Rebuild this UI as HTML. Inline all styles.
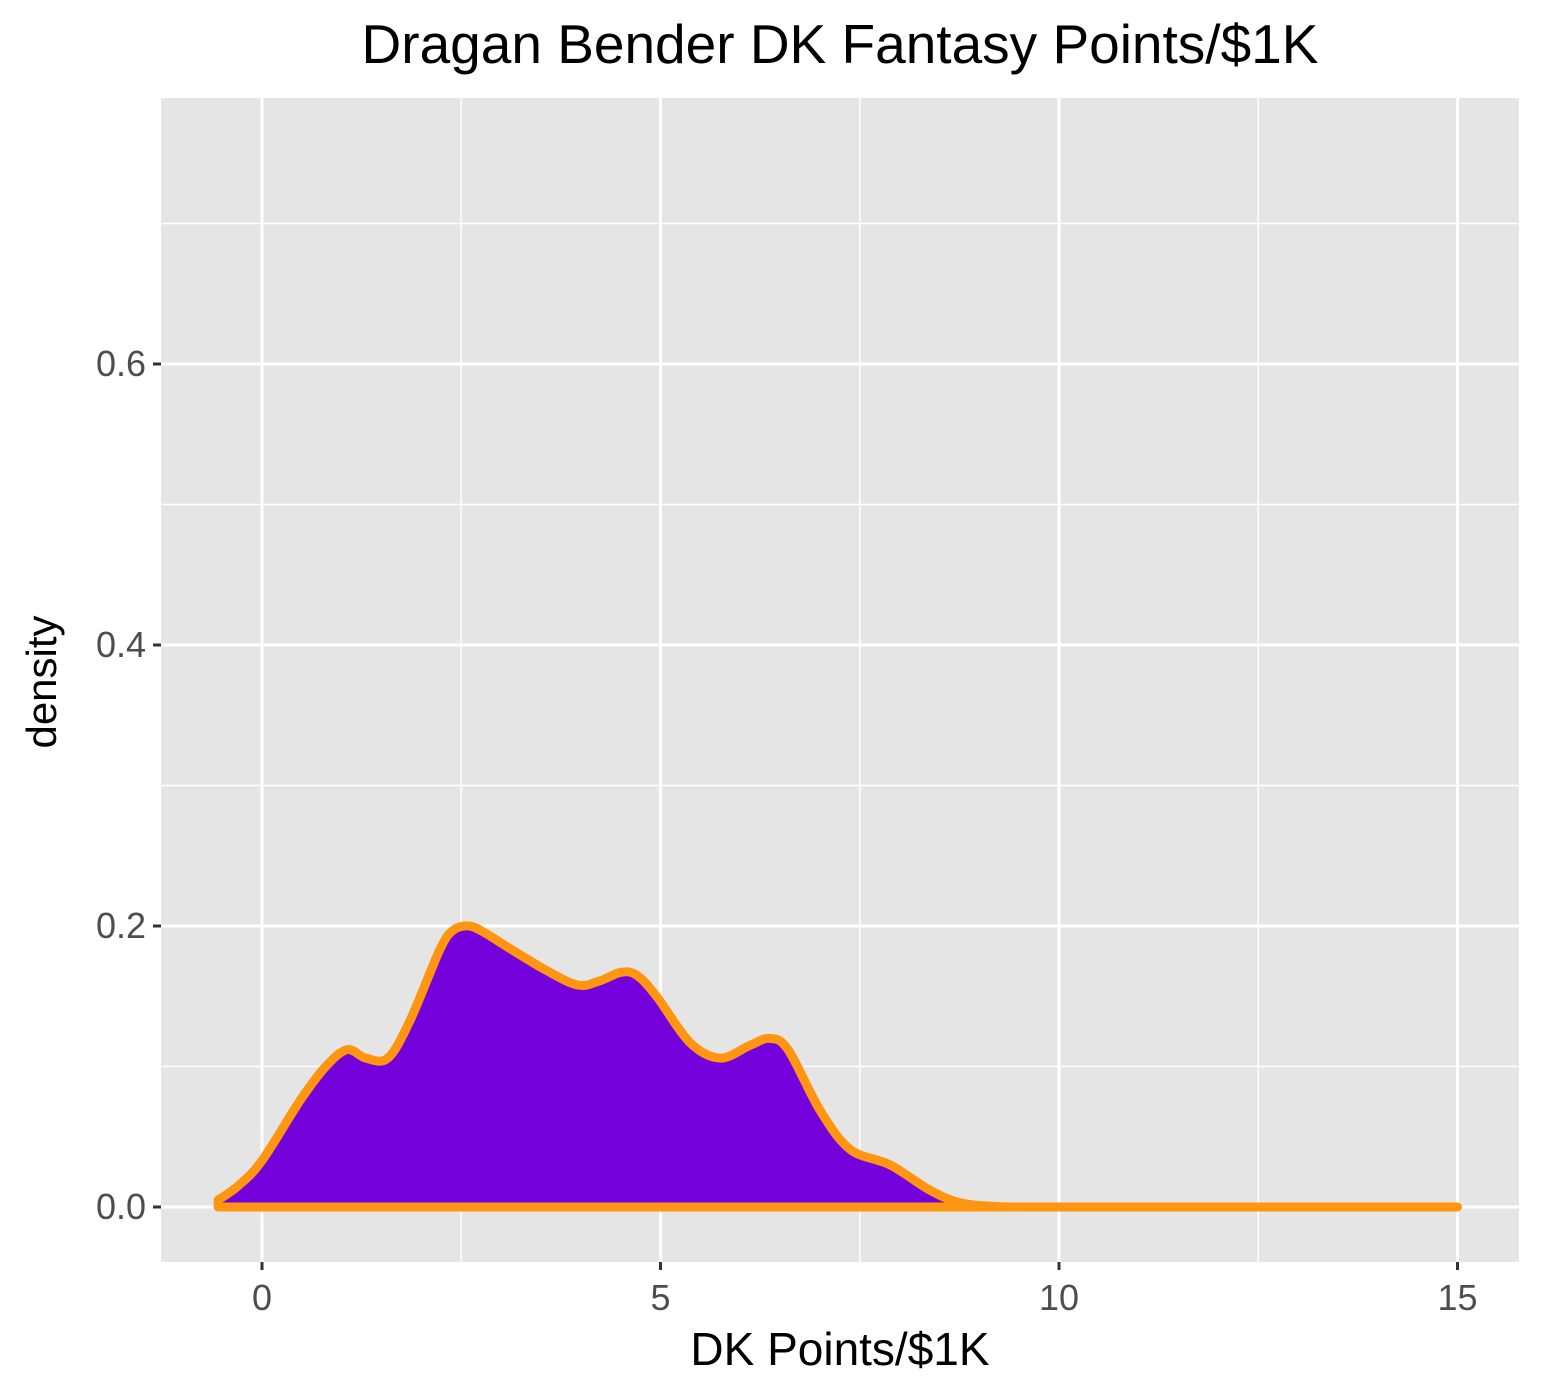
<!DOCTYPE html>
<html><head><meta charset="utf-8"><style>
body{margin:0;background:#fff;}
svg{display:block;font-family:"Liberation Sans",Arial,sans-serif;}
</style></head><body>
<svg id="chart" width="1541" height="1391">
<rect x="161" y="98" width="1358" height="1164" fill="#e5e5e5"/>
<g id="grid"></g>
<g id="plot"></g>
<g id="axes"></g>
<text x="840" y="63" font-size="55" text-anchor="middle" fill="#000">Dragan Bender DK Fantasy Points/$1K</text>
<text x="840" y="1365" font-size="46" text-anchor="middle" fill="#000">DK Points/$1K</text>
<text transform="translate(56,682) rotate(-90)" font-size="42" text-anchor="middle" fill="#000">density</text>
</svg>
<script>
const xs = [-0.55,-0.3,0,0.48,0.8,1.07,1.3,1.58,1.86,2.23,2.4,2.6,2.8,3.11,3.55,3.96,4.24,4.5,4.7,4.95,5.37,5.75,6.12,6.37,6.6,7.0,7.38,7.88,8.38,8.76,9.26,10,15];
const ys = [0.005,0.015,0.033,0.076,0.1,0.112,0.106,0.106,0.133,0.183,0.197,0.2,0.195,0.184,0.169,0.158,0.161,0.167,0.165,0.15,0.117,0.106,0.115,0.12,0.112,0.069,0.041,0.030,0.012,0.003,0.0003,0,0];
const xTicks = [0,5,10,15];
const xTickLabels = ["0","5","10","15"];
const yTicks = [0,0.2,0.4,0.6];
const yTickLabels = ["0.0","0.2","0.4","0.6"];
const xMinor = [2.5,7.5,12.5];
const yMinor = [0.1,0.3,0.5,0.7];
const X = v => 262 + v*79.7;
const Y = v => 1207 - v*1405;
const NS="http://www.w3.org/2000/svg";
const grid=document.getElementById('grid'), axes=document.getElementById('axes'), plot=document.getElementById('plot');
function mk(tag,attrs,parent){const e=document.createElementNS(NS,tag);for(const k in attrs)e.setAttribute(k,attrs[k]);parent.appendChild(e);return e;}
xMinor.forEach(v=>{const l=mk('line',{x1:X(v),x2:X(v),y1:98,y2:1262,stroke:'#fff','stroke-width':1.5},grid);

});
yMinor.forEach(v=>{const l=mk('line',{x1:161,x2:1519,y1:Y(v),y2:Y(v),stroke:'#fff','stroke-width':1.5},grid);

});
xTicks.forEach((v,i)=>{const l=mk('line',{x1:X(v),x2:X(v),y1:98,y2:1262,stroke:'#fff','stroke-width':3},grid);


const t=mk('line',{x1:X(v),x2:X(v),y1:1262,y2:1270,stroke:'#333','stroke-width':3},axes);


const tx=mk('text',{x:X(v),y:1310,'font-size':36,'text-anchor':'middle',fill:'#4d4d4d'},axes);tx.textContent=xTickLabels[i];

});
yTicks.forEach((v,i)=>{const l=mk('line',{x1:161,x2:1519,y1:Y(v),y2:Y(v),stroke:'#fff','stroke-width':3},grid);


const t=mk('line',{x1:153,x2:161,y1:Y(v),y2:Y(v),stroke:'#333','stroke-width':3},axes);


const tx=mk('text',{x:146,y:Y(v)+12,'font-size':36,'text-anchor':'end',fill:'#4d4d4d'},axes);tx.textContent=yTickLabels[i];

});
const pts=xs.map((x,i)=>[X(x),Y(ys[i])]);
let d='M'+pts[0][0]+','+pts[0][1];
for(let i=0;i<pts.length-1;i++){const p0=pts[i-1]||pts[i],p1=pts[i],p2=pts[i+1],p3=pts[i+2]||p2;
const c1=[p1[0]+(p2[0]-p0[0])/6,p1[1]+(p2[1]-p0[1])/6],c2=[p2[0]-(p3[0]-p1[0])/6,p2[1]-(p3[1]-p1[1])/6];
d+=` C${c1[0]},${Math.min(c1[1],1207)} ${c2[0]},${Math.min(c2[1],1207)} ${p2[0]},${p2[1]}`;}
const area=mk('path',{d:d+` L${X(xs[xs.length-1])},${Y(0)} L${X(xs[0])},${Y(0)} Z`,fill:'#7400db',stroke:'#ff9510','stroke-width':9,'stroke-linejoin':'round','stroke-linecap':'round'},plot);


</script>
</body></html>
